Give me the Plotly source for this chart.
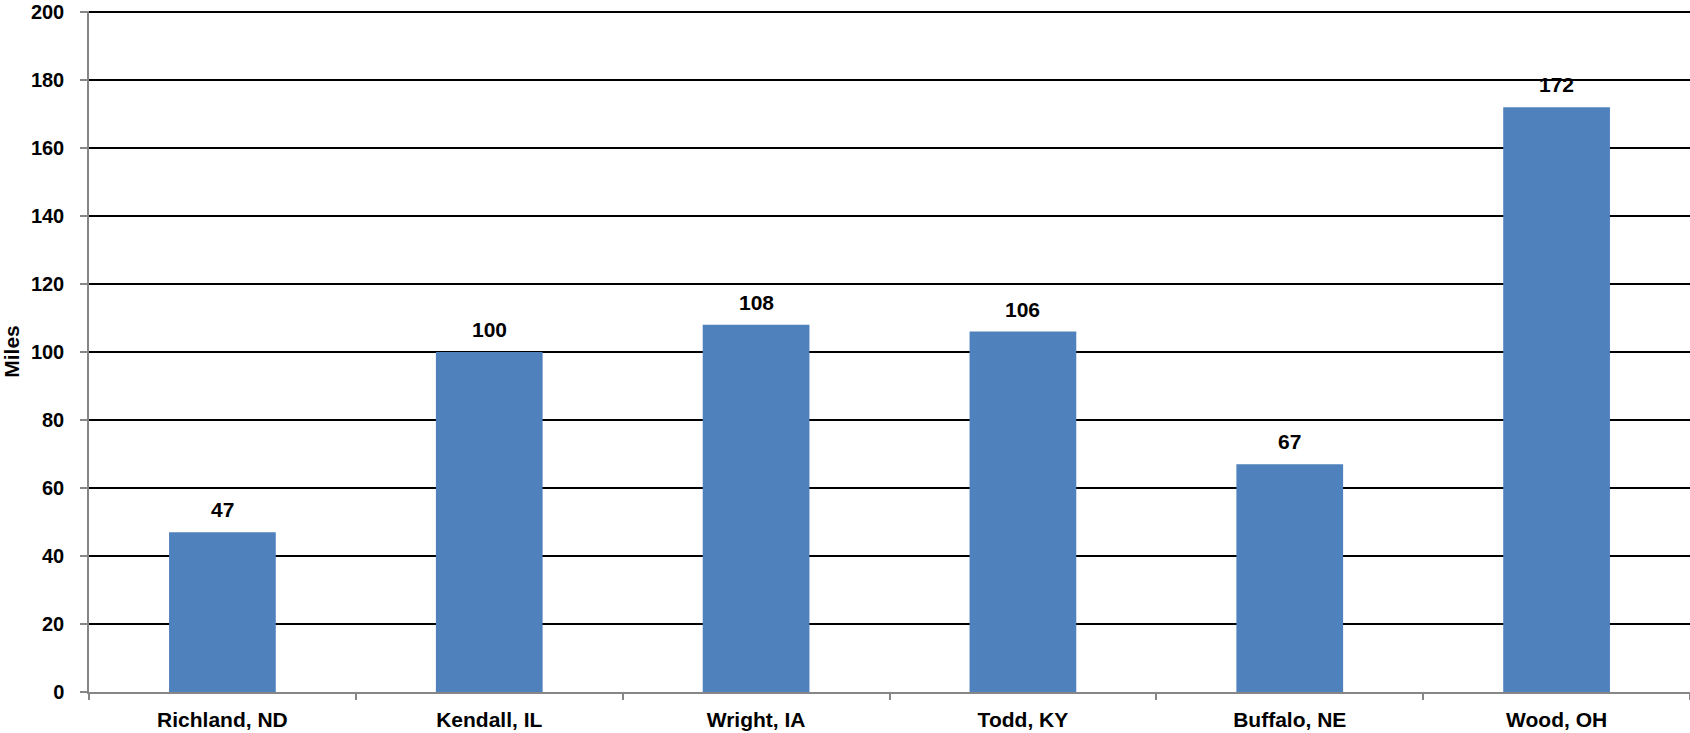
import plotly.graph_objects as go

categories = ["Richland, ND", "Kendall, IL", "Wright, IA", "Todd, KY", "Buffalo, NE", "Wood, OH"]
miles = [47, 100, 108, 106, 67, 172]
y_ticks = [0, 20, 40, 60, 80, 100, 120, 140, 160, 180, 200]

FONT = "Liberation Sans, Arial, sans-serif"

fig = go.Figure()
fig.add_trace(go.Bar(
    x=categories, y=miles,
    marker=dict(color="#4F81BD", line=dict(width=0)),
    width=0.4,
    showlegend=False,
))
for c, v in zip(categories, miles):
    fig.add_annotation(x=c, y=v, text=f"<b>{v}</b>", showarrow=False,
                       yanchor="bottom", yshift=9,
                       font=dict(family=FONT, size=21, color="black"))

fig.update_layout(
    width=1690, height=733,
    margin=dict(l=89, r=0, t=11, b=41),
    paper_bgcolor="white", plot_bgcolor="white",
    font=dict(family=FONT, color="black"),
    bargap=0.6,
)
fig.update_yaxes(
    range=[0, 200.3], tickvals=y_ticks, ticktext=[f"<b>{t}</b>" for t in y_ticks],
    showgrid=True, gridcolor="black", gridwidth=1.5,
    showline=True, linecolor="#868686", linewidth=1.5,
    ticks="outside", ticklen=7, tickcolor="#868686", tickwidth=1.5,
    ticklabelstandoff=12,
    tickfont=dict(family=FONT, size=20, color="black"),
    title=dict(text="<b>Miles</b>", font=dict(family=FONT, size=21, color="black"), standoff=6),
    zeroline=False,
)
fig.update_xaxes(
    tickvals=categories, ticktext=[f"<b>{c}</b>" for c in categories],
    showline=True, linecolor="#868686", linewidth=1.5,
    ticks="outside", tickson="boundaries", ticklen=6, tickcolor="#868686", tickwidth=1.5,
    tickfont=dict(family=FONT, size=21, color="black"),
    ticklabelstandoff=8,
    range=[-0.5, 5.5],
)
fig.write_html("out.html")
